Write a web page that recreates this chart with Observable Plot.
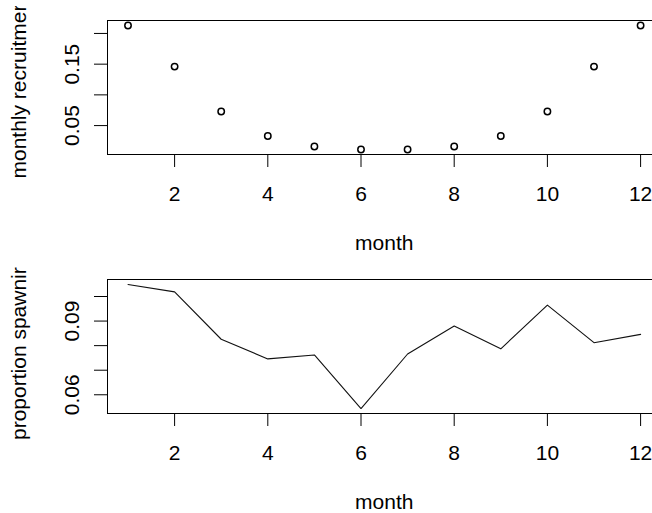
<!DOCTYPE html>
<html>
<head>
<meta charset="utf-8">
<script src="https://cdn.jsdelivr.net/npm/d3@7"></script>
<script src="https://cdn.jsdelivr.net/npm/@observablehq/plot@0.6"></script>
<style>
html, body { margin: 0; padding: 0; background: #fff; width: 652px; height: 513px; overflow: hidden; }
#top { position: absolute; left: 0; top: 6px; }
#bot { position: absolute; left: 0; top: 265px; }
svg { max-width: none !important; overflow: hidden !important; }
</style>
</head>
<body>
<div id="top"></div>
<div id="bot"></div>
<script>
// ---- data ----
const months = [1, 2, 3, 4, 5, 6, 7, 8, 9, 10, 11, 12];
const recruitment = [0.213, 0.146, 0.073, 0.033, 0.016, 0.011, 0.011, 0.016, 0.033, 0.073, 0.146, 0.213];
const spawning = [0.1049, 0.1019, 0.0826, 0.0746, 0.0762, 0.0544, 0.0766, 0.0880, 0.0787, 0.0965, 0.0812, 0.0846];
const xTicks = [2, 4, 6, 8, 10, 12];
const recruitTicks = [0.05, 0.10, 0.15, 0.20];
const recruitLabels = [0.05, 0.15];
const spawnTicks = [0.06, 0.07, 0.08, 0.09, 0.10];
const spawnLabels = [0.06, 0.09];
const xTitle = "month";
// y titles as they appear (cut short) in the reference picture
const recruitTitle = "monthly recruitmer";
const spawnTitle = "proportion spawnir";

// R-style 4% padded domain
function pad(vals) {
  const [a, b] = d3.extent(vals);
  const p = (b - a) * 0.04;
  return [a - p, b + p];
}

const W = 700, H = 259;
const margins = {marginLeft: 107, marginRight: W - 107 - 553.6, marginTop: 14, marginBottom: 111};
const fmt = d3.format(".2f");

function panel(values, yTicks, yLabels, yTitle, kind, titleDy) {
  const rows = months.map((m, i) => ({month: m, value: values[i]}));
  const mark = kind === "dot"
    ? Plot.dot(rows, {x: "month", y: "value", r: 3.2, stroke: "#000", strokeWidth: 1.5, fill: "none"})
    : Plot.line(rows, {x: "month", y: "value", stroke: "#111", strokeWidth: 1.1});
  const svg = Plot.plot({
    width: W,
    height: H,
    ...margins,
    style: {fontFamily: "'Liberation Sans', Arial, sans-serif", fontSize: "21px", color: "#000", background: "transparent", maxWidth: "none", overflow: "hidden"},
    x: {domain: pad(months)},
    y: {domain: pad(values)},
    marks: [
      Plot.frame({stroke: "#000", strokeWidth: 1}),
      Plot.axisX({ticks: xTicks, tickSize: 13, tickPadding: 19, stroke: "#000", label: xTitle, labelAnchor: "center", labelOffset: 95, labelArrow: false}),
      Plot.axisY({ticks: yTicks, tickSize: 13, tickPadding: 16, tickRotate: -90, stroke: "#000",
        tickFormat: d => yLabels.some(v => Math.abs(v - d) < 1e-9) ? fmt(d) : "",
        label: null}),
      Plot.text([yTitle], {frameAnchor: "bottom-left", rotate: -90, textAnchor: "start", lineAnchor: "top",
        dx: -96.4, dy: titleDy, fill: "#000"}),
      mark
    ]
  });
  svg.style.overflow = "hidden";
  return svg;
}

document.getElementById("top").appendChild(panel(recruitment, recruitTicks, recruitLabels, recruitTitle, "dot", 24));
document.getElementById("bot").appendChild(panel(spawning, spawnTicks, spawnLabels, spawnTitle, "line", 26.5));
</script>
</body>
</html>
